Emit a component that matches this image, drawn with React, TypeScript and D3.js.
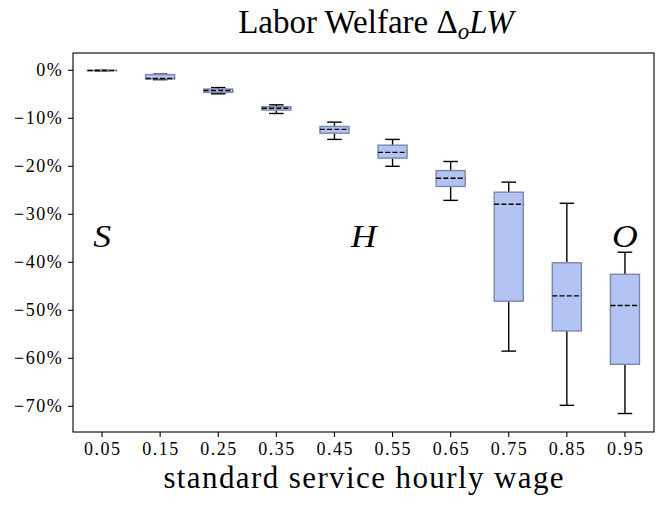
import * as d3 from 'd3';
import React, { useRef, useEffect } from 'react';

// wage levels (x categories)
const wages = ['0.05', '0.15', '0.25', '0.35', '0.45', '0.55', '0.65', '0.75', '0.85', '0.95'];
// box statistics, in percent
const whiskerHigh = [0, -0.8, -3.6, -7.2, -10.8, -14.4, -19.0, -23.3, -27.7, -37.9];
const q3 = [-0.02, -0.9, -3.9, -7.6, -11.7, -15.6, -20.9, -25.4, -40.1, -42.5];
const medians = [-0.05, -1.7, -4.2, -7.9, -12.3, -17.1, -22.5, -27.9, -47.0, -49.0];
const q1 = [-0.08, -1.8, -4.6, -8.3, -13.1, -18.3, -24.2, -48.1, -54.3, -61.25];
const whiskerLow = [-0.1, -1.95, -4.9, -9.0, -14.4, -20.0, -27.1, -58.5, -69.8, -71.5];
const yTicks = [0, -10, -20, -30, -40, -50, -60, -70];
// regime markers: label, x position (1-based box index), y value of baseline
const regimes = [
    { label: 'S', pos: 1, value: -36.8 },
    { label: 'H', pos: 5.5, value: -36.8 },
    { label: 'O', pos: 10, value: -36.8 },
];

const App: React.FC = () => {
    const svgRef = useRef<SVGSVGElement | null>(null);

    useEffect(() => {
        const width = 664;
        const height = 505;
        const l = 73;
        const t = 53;
        const r = 10;
        const b = 73;
        const w = width - l - r;
        const h = height - t - b;
        const serif = '"Liberation Serif", "Times New Roman", serif';

        const svg = d3.select(svgRef.current).attr('width', width).attr('height', height);
        svg.selectAll('*').remove();
        svg.append('rect').attr('width', width).attr('height', height).attr('fill', '#fff');

        const g = svg.append('g').attr('transform', `translate(${l}, ${t})`);

        const x = d3.scaleLinear().domain([0.5, wages.length + 0.5]).range([0, w]);
        const y = d3.scaleLinear().domain([3.6, -75.35]).range([0, h]);
        const boxW = x(1.5) - x(1);
        const capW = boxW / 2;

        const data = wages.map((k, i) => ({
            k, i, hi: whiskerHigh[i], q3: q3[i], med: medians[i], q1: q1[i], lo: whiskerLow[i],
        }));

        const boxes = g.selectAll('g.box').data(data).enter().append('g')
            .attr('transform', d => `translate(${x(d.i + 1)}, 0)`);

        // whiskers
        boxes.append('line').attr('x1', 0).attr('x2', 0)
            .attr('y1', d => y(d.hi)).attr('y2', d => y(d.q3))
            .attr('stroke', '#000').attr('stroke-width', 1.4);
        boxes.append('line').attr('x1', 0).attr('x2', 0)
            .attr('y1', d => y(d.q1)).attr('y2', d => y(d.lo))
            .attr('stroke', '#000').attr('stroke-width', 1.4);
        // caps
        [(d: any) => d.hi, (d: any) => d.lo].forEach(f => {
            boxes.append('line').attr('x1', -capW / 2).attr('x2', capW / 2)
                .attr('y1', d => y(f(d))).attr('y2', d => y(f(d)))
                .attr('stroke', '#000').attr('stroke-width', 1.4);
        });
        // box
        boxes.append('rect')
            .attr('x', -boxW / 2).attr('width', boxW)
            .attr('y', d => y(d.q3)).attr('height', d => Math.max(0, y(d.q1) - y(d.q3)))
            .attr('fill', '#b3c3f3').attr('stroke', '#7c88ab').attr('stroke-width', 1.4);
        // median
        boxes.append('line').attr('x1', -boxW / 2).attr('x2', boxW / 2)
            .attr('y1', d => y(d.med)).attr('y2', d => y(d.med))
            .attr('stroke', '#000').attr('stroke-width', 1.4).attr('stroke-dasharray', '5,2.2');

        // frame
        g.append('rect').attr('width', w).attr('height', h)
            .attr('fill', 'none').attr('stroke', '#000').attr('stroke-width', 1.1);

        // y axis
        const ya = g.append('g');
        yTicks.forEach(v => {
            ya.append('line').attr('x1', -4.9).attr('x2', 0).attr('y1', y(v)).attr('y2', y(v))
                .attr('stroke', '#000').attr('stroke-width', 1.1);
            ya.append('text').attr('x', -9.8).attr('y', y(v)).attr('dy', '0.33em')
                .attr('text-anchor', 'end').attr('font-family', serif).attr('font-size', 18)
                .attr('letter-spacing', 1.5)
                .text(`${v < 0 ? '\u2212' : ''}${Math.abs(v)}%`);
        });

        // x axis
        const xa = g.append('g').attr('transform', `translate(0, ${h})`);
        wages.forEach((k, i) => {
            xa.append('line').attr('x1', x(i + 1)).attr('x2', x(i + 1)).attr('y1', 0).attr('y2', 4.9)
                .attr('stroke', '#000').attr('stroke-width', 1.1);
            xa.append('text').attr('x', x(i + 1) + 0.75).attr('y', 23)
                .attr('text-anchor', 'middle').attr('font-family', serif).attr('font-size', 18)
                .attr('letter-spacing', 1.5)
                .text(k);
        });

        // regime labels (calligraphic letters approximated by a slightly widened italic)
        regimes.forEach(rg => {
            g.append('text')
                .attr('transform', `translate(${x(rg.pos)}, ${y(rg.value)}) scale(1.15, 1)`)
                .attr('text-anchor', 'middle').attr('font-family', serif)
                .attr('font-style', 'italic').attr('font-size', 31)
                .text(rg.label);
        });

        // x label
        svg.append('text').attr('x', l + w / 2 + 0.7).attr('y', 488)
            .attr('text-anchor', 'middle').attr('font-family', serif).attr('font-size', 31)
            .attr('letter-spacing', 1.4)
            .text('standard service hourly wage');

        // title
        const title = svg.append('text').attr('x', 376).attr('y', 33)
            .attr('text-anchor', 'middle').attr('font-family', serif).attr('font-size', 33);
        title.append('tspan').text('Labor Welfare \u0394');
        title.append('tspan').attr('font-style', 'italic').attr('font-size', 23).attr('dy', 6).text('o');
        title.append('tspan').attr('font-style', 'italic').attr('dy', -6).text('LW');
    }, []);

    return <svg ref={svgRef} style={{ position: 'absolute', left: 0, top: 0, display: 'block' }}></svg>;
};

export default App;
